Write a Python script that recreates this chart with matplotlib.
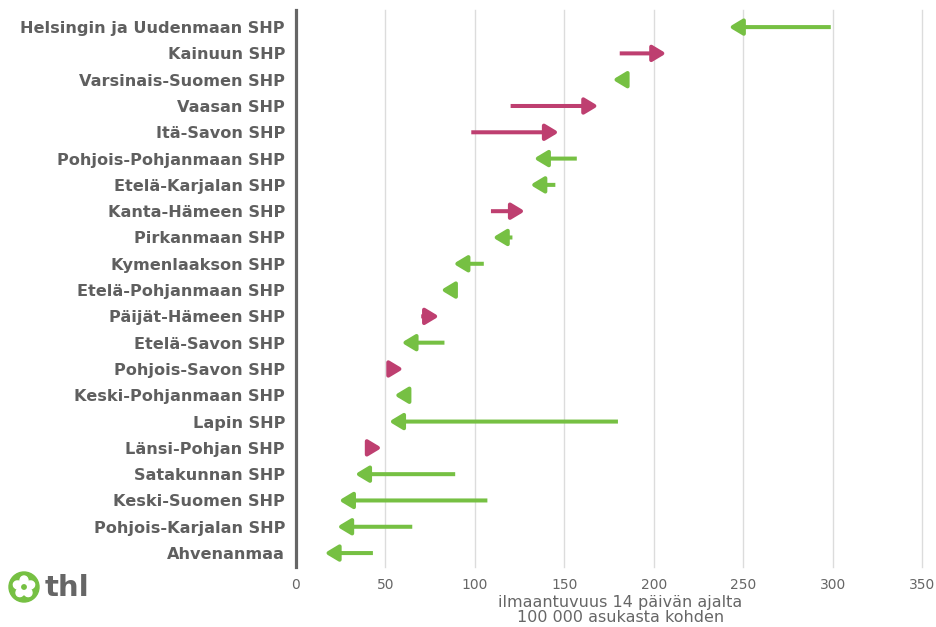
import matplotlib.pyplot as plt
import numpy as np
from matplotlib.patches import Circle, Ellipse

# hospital districts, top to bottom
regions = ['Helsingin ja Uudenmaan SHP', 'Kainuun SHP', 'Varsinais-Suomen SHP',
           'Vaasan SHP', 'Itä-Savon SHP', 'Pohjois-Pohjanmaan SHP',
           'Etelä-Karjalan SHP', 'Kanta-Hämeen SHP', 'Pirkanmaan SHP',
           'Kymenlaakson SHP', 'Etelä-Pohjanmaan SHP', 'Päijät-Hämeen SHP',
           'Etelä-Savon SHP', 'Pohjois-Savon SHP', 'Keski-Pohjanmaan SHP',
           'Lapin SHP', 'Länsi-Pohjan SHP', 'Satakunnan SHP',
           'Keski-Suomen SHP', 'Pohjois-Karjalan SHP', 'Ahvenanmaa']

# incidence per 100 000, previous period -> latest period
prev_val = [299, 181, 185, 120, 98, 157, 145, 109, 121, 105, 89,
            70, 83, 53, 63, 180, 41, 89, 107, 65, 43]
curr_val = [242, 207, 177, 169, 147, 133, 131, 128, 110, 88, 81,
            80, 59, 60, 55, 52, 48, 33, 24, 23, 16]

xticks = [0, 50, 100, 150, 200, 250, 300, 350]
xlabel = 'ilmaantuvuus 14 päivän ajalta\n100 000 asukasta kohden'

green = '#76c043'
pink = '#be3f70'
gray = '#5f5f5f'

fig = plt.figure(figsize=(9.37, 6.27), dpi=100)
ax = fig.add_axes([296 / 937, 1 - 567 / 627, 626 / 937, 557 / 627])

for i, (a, b) in enumerate(zip(prev_val, curr_val)):
    col = green if b < a else pink
    ax.annotate('', xy=(b, i), xytext=(a, i),
                arrowprops=dict(arrowstyle='-|>,head_length=0.8,head_width=0.48',
                                color=col, lw=2.9, shrinkA=0, shrinkB=0,
                                joinstyle='round', capstyle='butt'))

ax.set_xlim(0, 350)
ax.set_ylim(len(regions) - 0.47, -0.65)
ax.set_yticks(range(len(regions)))
ax.set_yticklabels(regions, fontsize=11.6, fontweight='bold', color=gray)
ax.set_xticks(xticks)
ax.set_xticklabels([str(t) for t in xticks], fontsize=10, color='#666666')
ax.tick_params(axis='both', length=0)
ax.tick_params(axis='y', pad=8)
ax.tick_params(axis='x', pad=8)

for t in xticks[1:]:
    ax.axvline(t, color='#dcdcdc', lw=1, zorder=0, clip_on=False)

for s in ['top', 'right', 'bottom']:
    ax.spines[s].set_visible(False)
ax.spines['left'].set_color('#666666')
ax.spines['left'].set_linewidth(2.3)

ax.set_xlabel(xlabel, fontsize=11.5, color='#666666', linespacing=0.95)
ax.xaxis.set_label_coords(0.518, -0.051, transform=ax.transAxes)

# thl logo, drawn in figure pixel units
lax = fig.add_axes([0, 0, 1, 1], zorder=-1)
lax.set_xlim(0, 937)
lax.set_ylim(0, 627)
lax.axis('off')
cx, cy = 24, 627 - 587
lax.add_patch(Circle((cx, cy), 15, color=green))
for k in range(5):
    ang = np.deg2rad(90 + 72 * k)
    lax.add_patch(Ellipse((cx + 6.5 * np.cos(ang), cy + 6.5 * np.sin(ang)), 9, 8,
                          angle=np.rad2deg(ang), color='white'))
lax.add_patch(Circle((cx, cy), 2.2, color=green))
lax.text(45, cy - 1, 'thl', fontsize=21, fontweight='bold', color='#666666',
         va='center', ha='left')

fig.savefig('out.png', dpi=100)
